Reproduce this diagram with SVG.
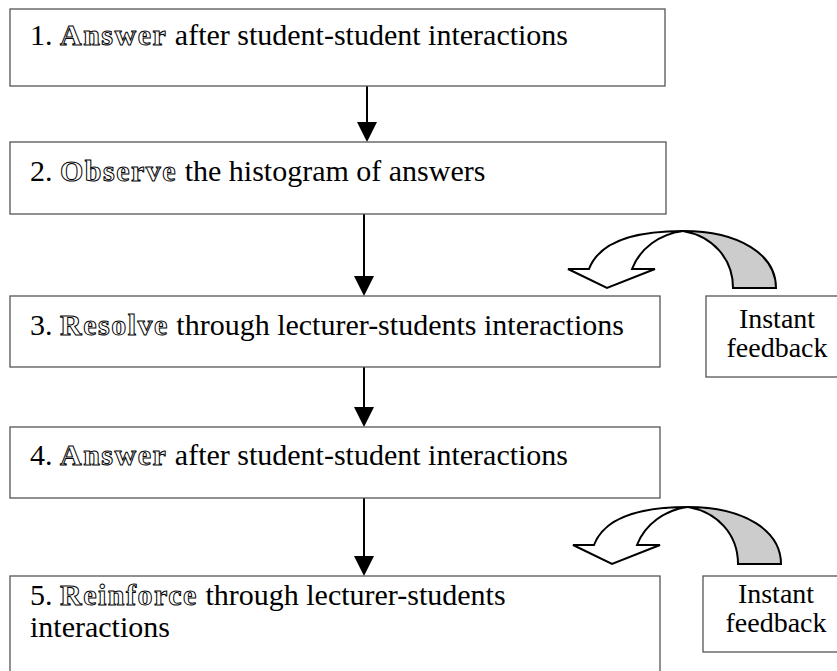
<svg xmlns="http://www.w3.org/2000/svg" width="837" height="671" viewBox="0 0 837 671">
<defs>
<style>
.box{fill:#fff;stroke:#555;stroke-width:1.3}
text{font-family:'Liberation Serif','DejaVu Serif','Noto Serif',serif}
.t{font-size:30px;fill:#000}
.o{font-weight:bold;fill:#fff;stroke:#000;stroke-width:1;letter-spacing:1.5px}
.fb{font-size:28px;fill:#000;text-anchor:middle}
.conn{stroke:#000;stroke-width:2;fill:none}
.head{fill:#000}
.cw{fill:#fff;stroke:#000;stroke-width:2;stroke-linejoin:miter}
.cg{fill:#ccc;stroke:#000;stroke-width:2}
</style>
</defs>
<rect width="837" height="671" fill="#fff"/>
<g id="connectors">
<line class="conn" x1="367" y1="86" x2="367" y2="124"/>
<polygon class="head" points="357,122 377,122 367,142"/>
<line class="conn" x1="364" y1="214" x2="364" y2="278"/>
<polygon class="head" points="354,276 374,276 364,296"/>
<line class="conn" x1="364" y1="367" x2="364" y2="409"/>
<polygon class="head" points="354,407 374,407 364,427"/>
<line class="conn" x1="364" y1="498" x2="364" y2="558"/>
<polygon class="head" points="354,556 374,556 364,576"/>
</g>
<g id="node1">
<rect class="box" x="10" y="9" width="655" height="77"/>
<text class="t" x="30" y="45">1. <tspan class="o">Answer</tspan> after student-student interactions</text>
</g>
<g id="node2">
<rect class="box" x="10" y="142" width="656" height="72"/>
<text class="t" x="30" y="181">2. <tspan class="o">Observe</tspan> the histogram of answers</text>
</g>
<g id="node3">
<rect class="box" x="10" y="296" width="650" height="71"/>
<text class="t" x="30" y="335">3. <tspan class="o">Resolve</tspan> through lecturer-students interactions</text>
</g>
<g id="node4">
<rect class="box" x="10" y="427" width="650" height="71"/>
<text class="t" x="30" y="465">4. <tspan class="o">Answer</tspan> after student-student interactions</text>
</g>
<g id="node5">
<rect class="box" x="10" y="576" width="650" height="110"/>
<text class="t" x="30" y="605">5. <tspan class="o">Reinforce</tspan> through lecturer-students</text>
<text class="t" x="30" y="637">interactions</text>
</g>
<g id="feedback1">
<g id="curved1">
<path class="cg" d="M683,231 C740,231 776,255 776,288 L733,288 C733,258 712,236 683,231 Z"/>
<path class="cw" d="M589,269 C600,240 640,231 683,231 C660,234 640,248 632,269 L655,269 L607,288 L568,269 Z"/>
</g>
<rect class="box" x="706" y="296" width="140" height="81"/>
<text class="fb" x="777" y="328">Instant</text>
<text class="fb" x="777" y="357">feedback</text>
</g>
<g id="feedback2">
<g id="curved2" transform="translate(5,276)">
<path class="cg" d="M683,231 C740,231 776,255 776,288 L733,288 C733,258 712,236 683,231 Z"/>
<path class="cw" d="M589,269 C600,240 640,231 683,231 C660,234 640,248 632,269 L655,269 L607,288 L568,269 Z"/>
</g>
<rect class="box" x="703" y="576" width="140" height="76"/>
<text class="fb" x="776" y="603">Instant</text>
<text class="fb" x="776" y="632">feedback</text>
</g>
</svg>
